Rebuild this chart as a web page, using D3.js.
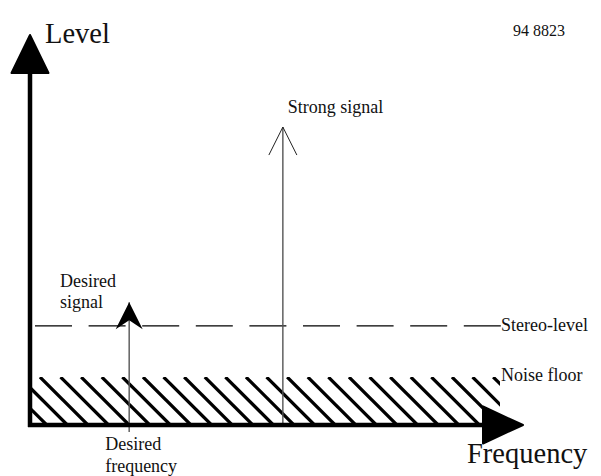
<!DOCTYPE html>
<html>
<head>
<meta charset="utf-8">
<script src="https://cdn.jsdelivr.net/npm/d3@7/dist/d3.min.js"></script>
<style>
  html, body { margin: 0; padding: 0; background: #fff; }
  svg { display: block; }
  text { font-family: "Liberation Serif", "Times New Roman", serif; fill: #111; }
</style>
</head>
<body>
<svg id="chart" width="601" height="476"></svg>
<script>
// ---- data ----
const signalNames = ["Desired signal", "Strong signal"];
const signalFreq = [21.1, 53.8];      // frequency position (0-100)
const signalLevel = [31.5, 76.4];     // level (0-100)
const stereoLevel = 25.4;
const noiseFloor = 12.3;
const axisLabels = ["Level", "Frequency"];
const refCode = "94 8823";

// ---- scales ----
const W = 601, H = 476;
const x = d3.scaleLinear().domain([0, 100]).range([30, 500]);
const y = d3.scaleLinear().domain([0, 100]).range([425, 35]);

const svg = d3.select("#chart");

// ---- noise floor hatch ----
const x0 = x(0), x1 = x(100), yTop = y(noiseFloor), yBot = y(0);
svg.append("clipPath").attr("id", "hatchClip")
  .append("rect").attr("x", x0).attr("y", yTop).attr("width", x1 - x0).attr("height", yBot - yTop);
const hh = yBot - yTop;
const step = 20.6;
const starts = d3.range(-4, 24).map(k => x0 + 10 + k * step);
svg.append("g").attr("clip-path", "url(#hatchClip)")
  .selectAll("line").data(starts).join("line")
  .attr("x1", d => d).attr("y1", yTop)
  .attr("x2", d => d + hh).attr("y2", yBot)
  .attr("stroke", "#000").attr("stroke-width", 3.2);

// ---- stereo level dashed line ----
svg.append("line")
  .attr("x1", 35).attr("x2", x(100) + 1)
  .attr("y1", y(stereoLevel)).attr("y2", y(stereoLevel))
  .attr("stroke", "#000").attr("stroke-width", 1.3)
  .attr("stroke-dasharray", "37,16.6");

// ---- signals ----
signalNames.forEach((name, i) => {
  const sx = x(signalFreq[i]), sy = y(signalLevel[i]);
  const bottom = i === 0 ? y(0) + 7 : y(0);
  svg.append("line")
    .attr("x1", sx).attr("x2", sx).attr("y1", sy).attr("y2", bottom)
    .attr("stroke", "#555").attr("stroke-width", 1.4);
  if (i === 0) {
    svg.append("path")
      .attr("d", `M${sx},${sy} L${sx + 13.5},${sy + 27} L${sx},${sy + 18} L${sx - 13.5},${sy + 27} Z`)
      .attr("fill", "#000");
  } else {
    svg.append("path")
      .attr("d", `M${sx - 14},${sy + 28} L${sx},${sy} L${sx + 14},${sy + 28}`)
      .attr("fill", "none").attr("stroke", "#222").attr("stroke-width", 1);
  }
});

// ---- axes ----
svg.append("line")
  .attr("x1", x(0)).attr("x2", x(0)).attr("y1", y(0) + 2).attr("y2", y(100) + 38)
  .attr("stroke", "#000").attr("stroke-width", 4.5);
svg.append("path")
  .attr("d", `M${x(0)},${y(100)} L${x(0) + 18.5},${y(100) + 38} L${x(0) - 18.5},${y(100) + 38} Z`)
  .attr("fill", "#000").attr("stroke", "#000").attr("stroke-width", 2).attr("stroke-linejoin", "round");
svg.append("line")
  .attr("x1", x(0) - 2).attr("x2", x(100) - 15).attr("y1", y(0)).attr("y2", y(0))
  .attr("stroke", "#000").attr("stroke-width", 4.5);
svg.append("path")
  .attr("d", `M${x(100) + 23},${y(0)} L${x(100) - 17},${y(0) - 18.5} L${x(100) - 17},${y(0) + 18.5} Z`)
  .attr("fill", "#000").attr("stroke", "#000").attr("stroke-width", 2).attr("stroke-linejoin", "round");

// ---- text ----
const big = 28.5, small = 18;
svg.append("text").attr("x", 45).attr("y", 43).attr("font-size", big).text(axisLabels[0]);
svg.append("text").attr("x", 467).attr("y", 463).attr("font-size", big).text(axisLabels[1]);
svg.append("text").attr("x", 513).attr("y", 36).attr("font-size", 16).text(refCode);

svg.append("text").attr("x", x(signalFreq[1]) + 5).attr("y", y(signalLevel[1]) - 14)
  .attr("font-size", small).text(signalNames[1]);
const ds = svg.append("text").attr("x", 60).attr("y", 287).attr("font-size", small);
ds.append("tspan").attr("x", 60).text("Desired");
ds.append("tspan").attr("x", 60).attr("dy", 21).text("signal");

const df = svg.append("text").attr("x", x(signalFreq[0]) - 24).attr("y", 450).attr("font-size", small);
df.append("tspan").attr("x", x(signalFreq[0]) - 24).text("Desired");
df.append("tspan").attr("x", x(signalFreq[0]) - 24).attr("dy", 22).text("frequency");

svg.append("text").attr("x", 501).attr("y", y(stereoLevel) + 5).attr("font-size", small).text("Stereo-level");
svg.append("text").attr("x", 501).attr("y", 381).attr("font-size", small).text("Noise floor");
</script>
</body>
</html>
